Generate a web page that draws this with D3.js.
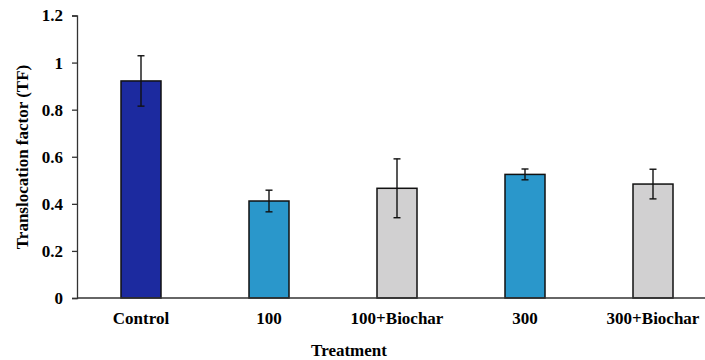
<!DOCTYPE html>
<html>
<head>
<meta charset="utf-8">
<script src="https://d3js.org/d3.v7.min.js"></script>
<style>
  body { margin: 0; background: #fff; }
  svg text { font-family: "Liberation Serif", "Times New Roman", serif; font-weight: bold; fill: #000; }
</style>
</head>
<body>
<svg id="chart" width="705" height="360"></svg>
<script>
// data
var treatments = ["Control", "100", "100+Biochar", "300", "300+Biochar"];
var tf = [0.922, 0.412, 0.466, 0.525, 0.484];
var tfErr = [0.107, 0.046, 0.125, 0.023, 0.063];
var barColors = ["#1c2a9f", "#2a97cb", "#d1d0d1", "#2a97cb", "#d1d0d1"];
var yTicks = [0, 0.2, 0.4, 0.6, 0.8, 1, 1.2];

var serif = "Liberation Serif, Times New Roman, serif";
var svg = d3.select("#chart");

var x = d3.scaleBand()
    .domain(treatments)
    .range([77, 717])
    .paddingInner(0.6875)
    .paddingOuter(0.34375);

var y = d3.scaleLinear()
    .domain([0, 1.2])
    .range([298, 15.5]);

// y axis
var yAxis = svg.append("g")
    .attr("transform", "translate(77,0)")
    .attr("font-family", serif)
    .call(d3.axisLeft(y).tickValues(yTicks).tickSize(5).tickPadding(9)
        .tickFormat(function (d) { return d; }));
yAxis.select(".domain").attr("stroke", "#333").attr("stroke-width", 1.3);
yAxis.selectAll(".tick line").attr("stroke", "#333").attr("stroke-width", 1.3);
yAxis.selectAll(".tick text").attr("font-family", serif).style("font-size", "17px");

// bars
var data = treatments.map(function (t, i) {
    return { name: t, v: tf[i], e: tfErr[i], c: barColors[i] };
});

svg.selectAll("rect.bar")
    .data(data)
    .enter()
    .append("rect")
    .attr("class", "bar")
    .attr("x", function (d) { return x(d.name); })
    .attr("width", x.bandwidth())
    .attr("y", function (d) { return y(d.v); })
    .attr("height", function (d) { return y(0) - y(d.v); })
    .attr("fill", function (d) { return d.c; })
    .attr("stroke", "#111")
    .attr("stroke-width", 1.5);

// error bars
var eb = svg.selectAll("g.err")
    .data(data)
    .enter()
    .append("g")
    .attr("class", "err")
    .attr("stroke", "#111")
    .attr("stroke-width", 1.4);
eb.append("line")
    .attr("x1", function (d) { return x(d.name) + x.bandwidth() / 2; })
    .attr("x2", function (d) { return x(d.name) + x.bandwidth() / 2; })
    .attr("y1", function (d) { return y(d.v + d.e); })
    .attr("y2", function (d) { return y(d.v - d.e); });
[1, -1].forEach(function (s) {
    eb.append("line")
        .attr("x1", function (d) { return x(d.name) + x.bandwidth() / 2 - 3.5; })
        .attr("x2", function (d) { return x(d.name) + x.bandwidth() / 2 + 3.5; })
        .attr("y1", function (d) { return y(d.v + s * d.e); })
        .attr("y2", function (d) { return y(d.v + s * d.e); });
});

// x axis
var xAxis = svg.append("g")
    .attr("transform", "translate(0,298)")
    .attr("font-family", serif)
    .call(d3.axisBottom(x).tickSize(0).tickPadding(14));
xAxis.select(".domain").attr("d", "M77,0H705").attr("stroke", "#333").attr("stroke-width", 1.3);
xAxis.selectAll(".tick text").attr("font-family", serif).style("font-size", "17px");

// titles
svg.append("text")
    .attr("x", 349)
    .attr("y", 356)
    .attr("text-anchor", "middle")
    .attr("font-family", serif)
    .style("font-size", "17px")
    .text("Treatment");

svg.append("text")
    .attr("transform", "translate(28,157) rotate(-90)")
    .attr("text-anchor", "middle")
    .attr("font-family", serif)
    .style("font-size", "17px")
    .text("Translocation factor (TF)");
</script>
</body>
</html>
